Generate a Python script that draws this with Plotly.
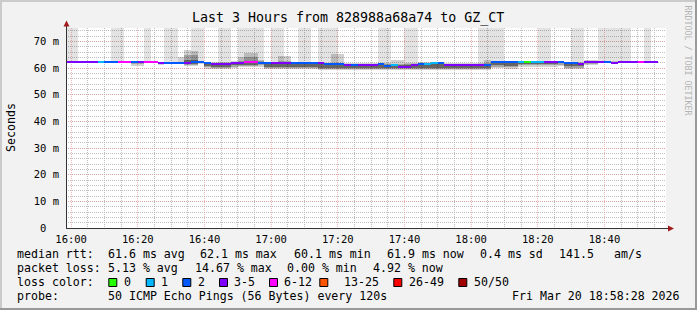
import plotly.graph_objects as go
from datetime import datetime, timedelta

# ---------------- data ----------------
FIRST_STEP = datetime(2026, 3, 20, 15, 58)   # start of first 120 s step
STEP_MIN = 2
X_RANGE = ["2026-03-20 15:58:28", "2026-03-20 18:58:28"]
Y_MAX = 75

median_ms = [
    62.2, 62.2, 62.2, 62.2, 62.2, 62.2, 62.2, 62.2, 62.2, 62.2,
    62.2, 62.2, 62.2, 62.2, 61.8, 62.0, 62.0, 62.0, 62.0, 62.1,
    62.1, 61.7, 61.4, 61.4, 61.4, 62.0, 62.0, 62.1, 62.1, 62.0,
    62.0, 61.9, 61.9, 61.9, 61.9, 62.0, 62.0, 62.0, 61.8, 61.6,
    61.6, 61.6, 61.0, 61.2, 61.0, 61.2, 61.2, 61.4, 60.8, 61.0,
    60.5, 60.5, 61.0, 61.4, 61.5, 61.8, 62.0, 61.3, 61.3, 61.3,
    61.3, 61.3, 61.3, 61.0, 62.1, 62.1, 62.1, 62.1, 62.2, 62.3,
    62.3, 62.3, 62.3, 62.3, 62.1, 61.8, 61.8, 61.6, 62.4, 62.4,
    62.4, 62.4, 61.9, 62.4, 62.4, 62.4, 62.4, 62.4, 62.4,
]
# index into loss_labels
loss_class = [
    3, 3, 3, 3, 3, 1, 2, 2, 4, 4,
    2, 3, 4, 4, 3, 2, 2, 2, 3, 2,
    2, 2, 3, 3, 3, 3, 3, 4, 4, 2,
    2, 3, 3, 3, 2, 2, 2, 2, 3, 2,
    2, 2, 3, 2, 3, 3, 3, 2, 2, 1,
    3, 3, 3, 2, 1, 1, 2, 3, 3, 3,
    3, 3, 3, 2, 2, 2, 2, 2, 1, 0,
    1, 1, 3, 3, 2, 2, 2, 3, 3, 3,
    3, 2, 3, 3, 3, 3, 4, 3, 3,
]
smoke_lo = [
    61.8, 61.8, 61.8, 61.8, 61.8, 61.8, 61.8, 61.8, 61.8, 61.8,
    60.9, 60.9, 61.8, 61.8, 61.2, 61.5, 61.5, 61.5, 60.6, 60.8,
    61.4, 59.6, 59.5, 59.5, 59.5, 60.0, 60.3, 60.3, 60.3, 60.5,
    59.6, 59.5, 59.6, 59.6, 59.5, 59.5, 59.5, 59.5, 59.4, 59.4,
    59.4, 59.4, 59.3, 59.3, 59.3, 59.3, 59.3, 59.3, 59.3, 59.3,
    59.3, 59.3, 59.3, 59.4, 59.4, 59.4, 59.4, 59.3, 59.3, 59.3,
    59.3, 59.3, 59.3, 59.2, 59.9, 59.9, 59.8, 59.8, 60.5, 60.5,
    60.5, 60.5, 60.5, 60.5, 60.8, 59.5, 59.5, 59.5, 61.0, 61.0,
    61.8, 61.8, 61.5, 61.8, 61.8, 61.8, 61.8, 61.8, 61.8,
]
smoke_hi = [
    62.6, 62.6, 62.6, 62.6, 62.6, 62.6, 62.6, 62.6, 62.6, 62.6,
    62.6, 62.6, 62.6, 62.6, 62.3, 62.4, 62.4, 64.0, 66.7, 66.4,
    62.8, 62.2, 62.2, 62.2, 62.2, 62.6, 64.0, 65.7, 65.5, 63.0,
    62.4, 62.4, 64.5, 64.5, 62.3, 62.4, 62.4, 62.4, 62.2, 62.0,
    65.2, 65.2, 61.9, 61.9, 61.9, 61.9, 61.9, 61.9, 61.9, 63.0,
    63.0, 61.8, 61.8, 62.4, 62.4, 62.4, 62.4, 61.9, 61.9, 61.9,
    61.9, 61.9, 61.9, 63.0, 62.5, 62.5, 62.5, 62.5, 62.6, 62.6,
    62.6, 62.6, 62.6, 62.6, 62.5, 62.2, 62.2, 62.2, 63.0, 63.0,
    62.8, 62.8, 62.8, 62.8, 62.8, 62.8, 62.8, 62.8, 62.8,
]
mid_lo = [
    62.0, 62.0, 62.0, 62.0, 62.0, 62.0, 62.0, 62.0, 62.0, 62.0,
    61.6, 61.6, 62.0, 62.0, 61.5, 61.8, 61.8, 61.8, 61.0, 61.2,
    61.7, 60.2, 59.9, 59.9, 59.9, 60.5, 60.7, 60.8, 60.8, 61.0,
    60.0, 59.9, 60.0, 60.0, 59.9, 59.9, 59.9, 59.9, 59.8, 59.8,
    59.8, 59.8, 59.6, 59.6, 59.6, 59.6, 59.6, 59.6, 59.6, 59.6,
    59.6, 59.6, 59.6, 59.7, 59.7, 59.7, 59.7, 59.6, 59.6, 59.6,
    59.6, 59.6, 59.6, 59.5, 60.5, 60.5, 60.2, 60.2, 61.0, 61.0,
    61.0, 61.0, 61.0, 61.0, 61.3, 60.0, 60.0, 60.0, 61.6, 61.6,
    62.1, 62.1, 61.7, 62.1, 62.1, 62.1, 62.1, 62.1, 62.1,
]
mid_hi = [
    62.4, 62.4, 62.4, 62.4, 62.4, 62.4, 62.4, 62.4, 62.4, 62.4,
    62.4, 62.4, 62.4, 62.4, 62.1, 62.2, 62.2, 62.4, 64.9, 64.9,
    62.4, 62.0, 61.9, 61.9, 61.9, 62.3, 62.8, 64.0, 64.0, 62.5,
    62.2, 62.1, 62.6, 62.6, 62.1, 62.2, 62.2, 62.2, 61.9, 61.8,
    62.0, 62.0, 61.6, 61.6, 61.6, 61.6, 61.6, 61.6, 61.6, 61.6,
    61.6, 61.5, 61.5, 62.0, 62.0, 62.0, 62.0, 61.6, 61.6, 61.6,
    61.6, 61.6, 61.6, 62.0, 62.3, 62.3, 62.3, 62.3, 62.4, 62.4,
    62.4, 62.4, 62.4, 62.4, 62.3, 62.0, 62.0, 62.0, 62.8, 62.8,
    62.6, 62.6, 62.4, 62.6, 62.6, 62.6, 62.6, 62.6, 62.6,
]
core_lo = [
    62.1, 62.1, 62.1, 62.1, 62.1, 62.1, 62.1, 62.1, 62.1, 62.1,
    62.0, 62.0, 62.1, 62.1, 61.7, 61.9, 61.9, 61.9, 61.4, 61.5,
    61.9, 60.8, 60.3, 60.3, 60.3, 61.0, 61.2, 61.3, 61.3, 61.4,
    60.5, 60.3, 60.4, 60.4, 60.3, 60.3, 60.3, 60.3, 60.1, 60.1,
    60.1, 60.1, 59.9, 59.9, 59.9, 59.9, 59.9, 59.9, 59.9, 59.9,
    59.9, 59.9, 59.9, 60.0, 60.0, 60.0, 60.0, 59.9, 59.9, 59.9,
    59.9, 59.9, 59.9, 59.9, 61.2, 61.2, 60.8, 60.8, 61.6, 61.6,
    61.6, 61.6, 61.6, 61.6, 61.7, 60.8, 60.8, 60.8, 62.0, 62.0,
    62.2, 62.2, 61.8, 62.2, 62.2, 62.2, 62.2, 62.2, 62.2,
]
core_hi = [
    62.3, 62.3, 62.3, 62.3, 62.3, 62.3, 62.3, 62.3, 62.3, 62.3,
    62.3, 62.3, 62.3, 62.3, 61.9, 62.1, 62.1, 62.1, 63.0, 63.0,
    62.2, 61.8, 61.5, 61.5, 61.5, 62.0, 62.2, 62.6, 62.6, 62.2,
    61.8, 61.6, 61.7, 61.7, 61.6, 61.7, 61.7, 61.7, 61.4, 61.3,
    61.3, 61.3, 61.1, 61.1, 61.1, 61.1, 61.1, 61.1, 61.1, 61.0,
    61.0, 61.0, 61.0, 61.4, 61.4, 61.4, 61.4, 61.1, 61.1, 61.1,
    61.1, 61.1, 61.1, 61.2, 62.0, 62.0, 61.9, 61.9, 62.2, 62.2,
    62.2, 62.2, 62.2, 62.2, 62.1, 61.6, 61.6, 61.6, 62.6, 62.6,
    62.5, 62.5, 62.1, 62.5, 62.5, 62.5, 62.5, 62.5, 62.5,
]
# steps whose lost pings are drawn as bars up to the top of the graph
loss_bar_steps = [0, 1, 7, 8, 12, 15, 16, 19, 20, 23, 24, 26, 27, 28, 29, 31, 32,
                  35, 36, 38, 39, 40, 47, 48, 51, 52, 62, 63, 64, 65, 71, 72, 76,
                  77, 80, 81, 82, 83, 84, 87]

y_tickvals = [0, 10, 20, 30, 40, 50, 60, 70]
y_ticktext = ["0\u00a0\u00a0", "10 m", "20 m", "30 m", "40 m", "50 m", "60 m", "70 m"]

loss_labels = ["0", "1", "2", "3-5", "6-12", "13-25", "26-49", "50/50"]

title_text = "Last 3 Hours from 828988a68a74 to GZ_CT"
rtt_row = ["median rtt:", "61.6 ms avg", "62.1 ms max", "60.1 ms min",
           "61.9 ms now", "0.4 ms sd", "141.5", "am/s"]
loss_row = ["packet loss:", "5.13 % avg", "14.67 % max", "0.00 % min", "4.92 % now"]
probe_row = ["probe:", "50 ICMP Echo Pings (56 Bytes) every 120s"]
stamp_text = "Fri Mar 20 18:58:28 2026"

# ---------------- styles ----------------
LOSS_COLORS = ["#26ff00", "#00b8ff", "#0059ff", "#7e00ff",
               "#ff00ff", "#ff5500", "#ff0000", "#a00000"]
MONO = "DejaVu Sans Mono"
L, T, W, H = 66, 28, 600, 200
FIG_W, FIG_H = 697, 310
LINE_MS = 0.75


def fx(px):
    return (px - L) / W


def fy(py):
    return (T + H - py) / H


n = len(median_ms)
times = [FIRST_STEP + timedelta(minutes=STEP_MIN * k + STEP_MIN / 2) for k in range(n)]
bw = STEP_MIN * 60 * 1000

fig = go.Figure()

# lost pings -> bars to top
fig.add_trace(go.Bar(
    x=times, base=median_ms,
    y=[(Y_MAX - median_ms[k]) if k in loss_bar_steps else None for k in range(n)],
    width=bw, marker=dict(color="rgba(0,0,0,0.11)", line=dict(width=0)),
    hoverinfo="skip", showlegend=False))

# smoke layers
for lo, hi, col in [(smoke_lo, smoke_hi, "rgba(0,0,0,0.18)"),
                    (mid_lo, mid_hi, "rgba(0,0,0,0.22)"),
                    (core_lo, core_hi, "rgba(0,0,0,0.38)")]:
    fig.add_trace(go.Bar(
        x=times, base=lo, y=[h - l for l, h in zip(lo, hi)], width=bw,
        marker=dict(color=col, line=dict(width=0)),
        hoverinfo="skip", showlegend=False))

# median line coloured by loss
fig.add_trace(go.Bar(
    x=times, base=[m - LINE_MS / 2 for m in median_ms], y=[LINE_MS] * n, width=bw,
    marker=dict(color=[LOSS_COLORS[c] for c in loss_class], line=dict(width=0)),
    hoverinfo="skip", showlegend=False))

MAJ = "rgba(240,150,150,0.65)"
MIN = "rgba(170,170,170,0.75)"

fig.update_layout(
    width=FIG_W, height=FIG_H, autosize=False,
    margin=dict(l=L, r=FIG_W - L - W, t=T, b=FIG_H - T - H, pad=0),
    paper_bgcolor="#f2f2f2", plot_bgcolor="#ffffff",
    barmode="overlay", bargap=0,
    font=dict(family=MONO, color="#000000", size=10.5),
    xaxis=dict(type="date", range=X_RANGE, tickformat="%H:%M",
               tick0="2026-03-20 16:00", dtick=20 * 60 * 1000,
               showgrid=True, gridcolor=MAJ, griddash="1px,1px", gridwidth=1,
               minor=dict(dtick=5 * 60 * 1000, showgrid=True, gridcolor=MIN,
                          griddash="1px,1px", gridwidth=1),
               zeroline=False, showline=False, ticks="",
               tickfont=dict(family=MONO, size=10.5), ticklabelstandoff=3,
               fixedrange=True),
    yaxis=dict(range=[0, Y_MAX], tickmode="array", tickvals=y_tickvals, ticktext=y_ticktext,
               showgrid=True, gridcolor=MAJ, griddash="1px,1px", gridwidth=1,
               minor=dict(tick0=0, dtick=2, showgrid=True, gridcolor=MIN,
                          griddash="1px,1px", gridwidth=1),
               zeroline=False, showline=False, ticks="",
               tickfont=dict(family=MONO, size=10.5), ticklabelstandoff=6,
               fixedrange=True),
)

shapes = []
# frame of the image
shapes += [
    dict(type="rect", xref="paper", yref="paper", x0=fx(0), x1=fx(FIG_W), y0=fy(0), y1=fy(2),
         fillcolor="#cbcbcb", line=dict(width=0), layer="above"),
    dict(type="rect", xref="paper", yref="paper", x0=fx(0), x1=fx(2), y0=fy(0), y1=fy(FIG_H),
         fillcolor="#cbcbcb", line=dict(width=0), layer="above"),
    dict(type="rect", xref="paper", yref="paper", x0=fx(0), x1=fx(FIG_W), y0=fy(FIG_H - 2), y1=fy(FIG_H),
         fillcolor="#999999", line=dict(width=0), layer="above"),
    dict(type="rect", xref="paper", yref="paper", x0=fx(FIG_W - 2), x1=fx(FIG_W), y0=fy(0), y1=fy(FIG_H),
         fillcolor="#999999", line=dict(width=0), layer="above"),
]
# axes
shapes += [
    dict(type="line", xref="paper", yref="paper", x0=fx(66.5), x1=fx(66.5), y0=fy(228.5), y1=fy(25),
         line=dict(color="#333333", width=1), layer="above"),
    dict(type="line", xref="paper", yref="paper", x0=fx(66), x1=fx(670), y0=fy(228.5), y1=fy(228.5),
         line=dict(color="#333333", width=1), layer="above"),
    dict(type="path", xref="paper", yref="paper",
         path=f"M {fx(63.5)},{fy(26.5)} L {fx(69.5)},{fy(26.5)} L {fx(66.5)},{fy(20.5)} Z",
         fillcolor="#a01c1c", line=dict(width=0), layer="above"),
    dict(type="path", xref="paper", yref="paper",
         path=f"M {fx(668)},{fy(225.5)} L {fx(668)},{fy(231.5)} L {fx(674)},{fy(228.5)} Z",
         fillcolor="#a01c1c", line=dict(width=0), layer="above"),
]

ann = []


def text(s, px, py, size=11.6, anchor="left", color="#000000", angle=0):
    ann.append(dict(text=s, xref="paper", yref="paper", x=fx(px), y=fy(py),
                    xanchor=anchor, yanchor="middle", showarrow=False, borderpad=0,
                    textangle=angle, font=dict(family=MONO, size=size, color=color)))


text(title_text, 348, 18.5, size=13.3, anchor="center")
text("Seconds", 11, 128, size=11.6, anchor="center", angle=-90)
text("RRDTOOL / TOBI OETIKER", 687.5, 60, size=8.3, anchor="center", color="#b4b4b4", angle=90)

ROW_Y = [253.5, 267.5, 281.5, 295.5]
rtt_x = [15.5, 106.5, 199.3, 292.6, 386, 479.3, 557.6, 613.3]
for s, x in zip(rtt_row, rtt_x):
    text(s, x, ROW_Y[0])
loss_x = [15.5, 106.5, 193.6, 286, 371.6]
for s, x in zip(loss_row, loss_x):
    text(s, x, ROW_Y[1])
text("loss color:", 15.5, ROW_Y[2])
sw_x = [108.3, 145.7, 182.3, 219.0, 269.0, 319.3, 393.3, 458.3]
lab_x = [122.6, 160.0, 196.6, 232.6, 282.6, 342.6, 407.6, 472.6]
for i, lab in enumerate(loss_labels):
    shapes.append(dict(type="rect", xref="paper", yref="paper",
                       x0=fx(sw_x[i] + 0.5), x1=fx(sw_x[i] + 8.5), y0=fy(278.5), y1=fy(286.5),
                       fillcolor=LOSS_COLORS[i], line=dict(color="#000000", width=1), layer="above"))
    text(lab, lab_x[i], ROW_Y[2])
text(probe_row[0], 15.5, ROW_Y[3])
text(probe_row[1], 106.5, ROW_Y[3])
text(stamp_text, 681, ROW_Y[3], anchor="right")

fig.update_layout(shapes=shapes, annotations=ann)
fig.write_html("out.html")
